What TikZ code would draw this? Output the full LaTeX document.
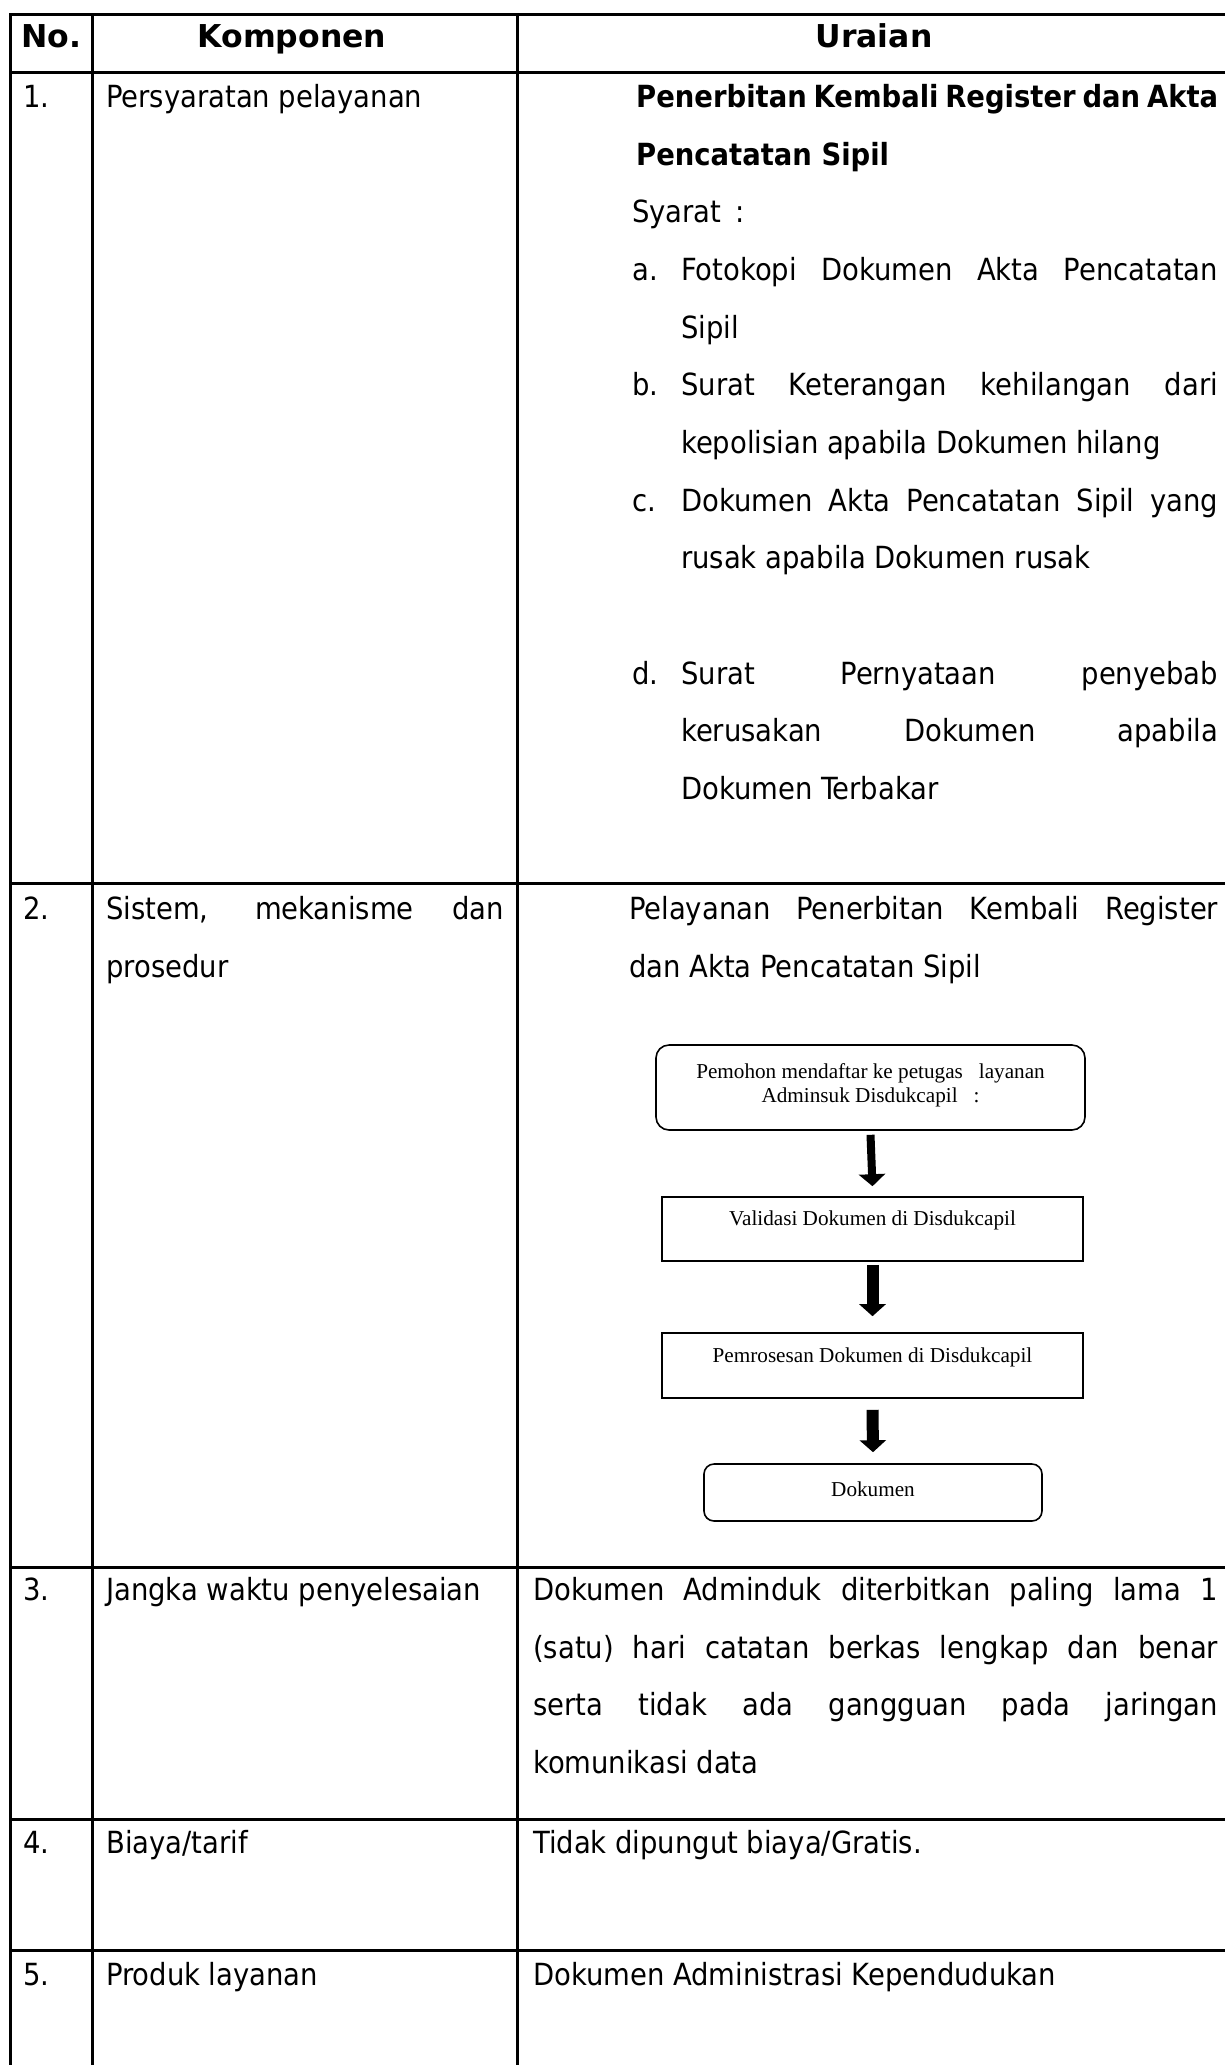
\documentclass[tikz,border=0pt]{standalone}
\usepackage{fontspec}
\setmainfont{DejaVu Sans Condensed}
\newfontfamily\headfont{DejaVu Sans}
\newfontfamily\flowfont{Liberation Serif}
\usetikzlibrary{arrows.meta}

% stretch a line of text to the given width (justified line)
\newcommand\spreadline[2]{\makebox[#1][s]{#2}}

\begin{document}
\begin{tikzpicture}[x=1pt,y=-1pt,
  rule/.style={line width=3pt},
  txt/.style={anchor=base west, inner sep=0pt, font=\fontsize{30.5}{36}\selectfont},
  btxt/.style={txt, font=\fontsize{30.5}{36}\selectfont\bfseries},
  head/.style={anchor=base, inner sep=0pt, font=\headfont\fontsize{31.5}{36}\selectfont\bfseries},
  flowbox/.style={draw, line width=1.6pt, inner sep=0pt},
  flowtext/.style={anchor=base, inner sep=0pt, font=\flowfont\fontsize{21.2}{24}\selectfont},
  flowarrow/.style={line width=#1, -{Triangle[width=26pt,length=12pt]}},
]
\useasboundingbox (0,0) rectangle (1225,2065);
\clip (0,0) rectangle (1225,2065);

% ---- table rules ----
\draw[rule] (10,2075) -- (10,14) -- (1240,14);
\draw[rule] (92,14) -- (92,2075);
\draw[rule] (517,14) -- (517,2075);
\draw[rule] (10,72) -- (1240,72);
\draw[rule] (10,883) -- (1240,883);
\draw[rule] (10,1567) -- (1240,1567);
\draw[rule] (10,1819) -- (1240,1819);
\draw[rule] (10,1950) -- (1240,1950);

% ---- header ----
\node[head] (hno) at (51,47) {No.};
\node[head] (hkomp) at (292,47) {Komponen};
\node[head] (hur) at (874,47) {Uraian};

% ---- row 1 ----
\node[txt] (n1) at (23,107) {1.};
\node[txt] (k1) at (106,107) {Persyaratan pelayanan};
\node[btxt] (u1a) at (636,107) {\spreadline{582pt}{Penerbitan Kembali Register dan Akta}};
\node[btxt] (u1b) at (636,165) {Pencatatan Sipil};
\node[txt] (u1c) at (632,222) {Syarat\hspace{14pt}:};
\node[txt] (la) at (632,280) {a.};
\node[txt] (ia1) at (681,280) {\spreadline{537pt}{Fotokopi Dokumen Akta Pencatatan}};
\node[txt] (ia2) at (681,338) {Sipil};
\node[txt] (lb) at (632,395) {b.};
\node[txt] (ib1) at (681,395) {\spreadline{537pt}{Surat Keterangan kehilangan dari}};
\node[txt] (ib2) at (681,453) {kepolisian apabila Dokumen hilang};
\node[txt] (lc) at (632,511) {c.};
\node[txt] (ic1) at (681,511) {\spreadline{537pt}{Dokumen Akta Pencatatan Sipil yang}};
\node[txt] (ic2) at (681,568) {rusak apabila Dokumen rusak};
\node[txt] (ld) at (632,684) {d.};
\node[txt] (id1) at (681,684) {\spreadline{537pt}{Surat Pernyataan penyebab}};
\node[txt] (id2) at (681,741) {\spreadline{537pt}{kerusakan Dokumen apabila}};
\node[txt] (id3) at (681,799) {Dokumen Terbakar};

% ---- row 2 ----
\node[txt] (n2) at (23,919) {2.};
\node[txt] (k2a) at (106,919) {\spreadline{398pt}{Sistem, mekanisme dan}};
\node[txt] (k2b) at (106,977) {prosedur};
\node[txt] (u2a) at (629,919) {\spreadline{589pt}{Pelayanan Penerbitan Kembali Register}};
\node[txt] (u2b) at (629,977) {dan Akta Pencatatan Sipil};

% ---- flow of the procedure ----
\node[flowbox, rounded corners=13pt, minimum width=429pt, minimum height=85pt] (step1) at (870.5,1087.5) {};
\node[flowbox, minimum width=421pt, minimum height=64pt] (step2) at (872.5,1229) {};
\node[flowbox, minimum width=421pt, minimum height=65pt] (step3) at (872.5,1365.5) {};
\node[flowbox, rounded corners=10pt, minimum width=338pt, minimum height=57pt] (step4) at (873,1492.5) {};

\node[flowtext] (s1a) at ([yshift=-34pt]step1.north) {Pemohon mendaftar ke petugas \ \ layanan};
\node[flowtext] (s1b) at ([yshift=-58pt]step1.north) {Adminsuk Disdukcapil \ \ :};
\node[flowtext] (s2) at ([yshift=-29pt]step2.north) {Validasi Dokumen di Disdukcapil};
\node[flowtext] (s3) at ([yshift=-30pt]step3.north) {Pemrosesan Dokumen di Disdukcapil};
\node[flowtext] (s4) at ([yshift=-33pt]step4.north) {Dokumen};

\draw[flowarrow=8pt] ([yshift=-4pt]step1.south) -- ([yshift=10pt]step2.north);
\draw[flowarrow=12pt] ([yshift=-3pt]step2.south) -- ([yshift=16pt]step3.north);
\draw[flowarrow=12pt] ([yshift=-11pt]step3.south) -- ([yshift=11pt]step4.north);

% ---- row 3 ----
\node[txt] (n3) at (23,1600) {3.};
\node[txt] (k3) at (106,1600) {Jangka waktu penyelesaian};
\node[txt] (u3a) at (533,1600) {\spreadline{685pt}{Dokumen Adminduk diterbitkan paling lama 1}};
\node[txt] (u3b) at (533,1658) {\spreadline{685pt}{(satu) hari catatan berkas lengkap dan benar}};
\node[txt] (u3c) at (533,1715) {\spreadline{685pt}{serta tidak ada gangguan pada jaringan}};
\node[txt] (u3d) at (533,1773) {komunikasi data};

% ---- row 4 ----
\node[txt] (n4) at (23,1853) {4.};
\node[txt] (k4) at (106,1853) {Biaya/tarif};
\node[txt] (u4) at (533,1853) {Tidak dipungut biaya/Gratis.};

% ---- row 5 ----
\node[txt] (n5) at (23,1985) {5.};
\node[txt] (k5) at (106,1985) {Produk layanan};
\node[txt] (u5) at (533,1985) {Dokumen Administrasi Kependudukan};
\end{tikzpicture}
\end{document}
